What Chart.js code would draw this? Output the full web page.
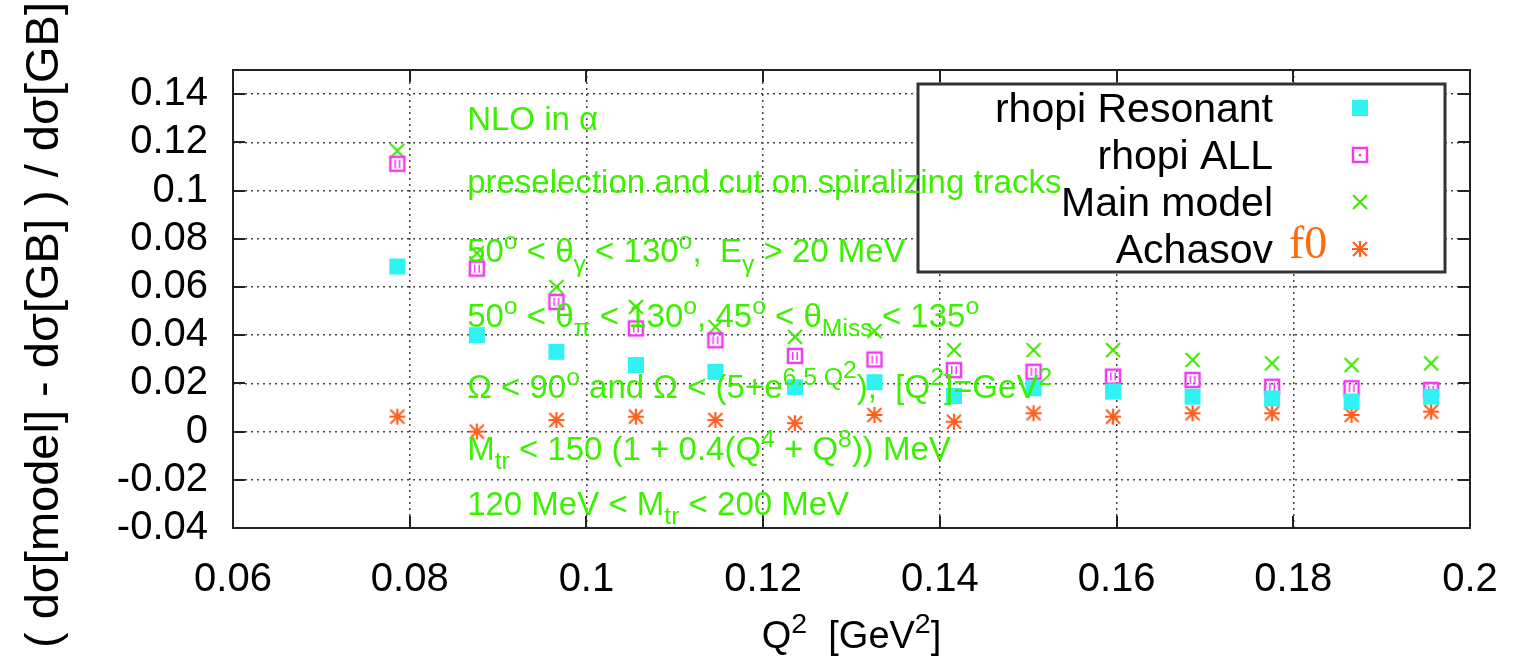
<!DOCTYPE html>
<html>
<head>
<meta charset="utf-8">
<script src="https://cdn.jsdelivr.net/npm/chart.js@4.4.1/dist/chart.umd.min.js"></script>
<style>
    html, body { margin: 0; padding: 0; background: #fff; overflow: hidden; }
    #ratioCanvas { display: block; }
</style>
</head>
<body>
<canvas id="ratioCanvas" width="1513" height="663"></canvas>
<script>
// Q^2 bin centres [GeV^2]
const q2 = [0.0786, 0.0876, 0.0966, 0.1056, 0.1146, 0.1236, 0.1326, 0.1416, 0.1506, 0.1596, 0.1686, 0.1776, 0.1866, 0.1956];

// relative difference to the GB cross section for each model
const rhopiResonant = [0.0685, 0.0400, 0.0331, 0.0276, 0.0248, 0.0184, 0.0205, 0.0148, 0.0180, 0.0166, 0.0145, 0.0138, 0.0124, 0.0145];
const rhopiAll      = [0.1111, 0.0676, 0.0538, 0.0428, 0.0379, 0.0314, 0.0299, 0.0255, 0.0248, 0.0228, 0.0214, 0.0186, 0.0180, 0.0173];
const mainModel     = [0.1165, 0.0740, 0.0600, 0.0517, 0.0434, 0.0393, 0.0417, 0.0338, 0.0338, 0.0338, 0.0297, 0.0283, 0.0276, 0.0283];
const achasov       = [0.0062, 0.0000, 0.0048, 0.0062, 0.0048, 0.0035, 0.0069, 0.0041, 0.0076, 0.0062, 0.0076, 0.0076, 0.0069, 0.0083];

const xTicks = [0.06, 0.08, 0.1, 0.12, 0.14, 0.16, 0.18, 0.2];
const xTickLabels = ['0.06', '0.08', '0.1', '0.12', '0.14', '0.16', '0.18', '0.2'];
const yTicks = [-0.04, -0.02, 0, 0.02, 0.04, 0.06, 0.08, 0.1, 0.12, 0.14];
const yTickLabels = ['-0.04', '-0.02', '0', '0.02', '0.04', '0.06', '0.08', '0.1', '0.12', '0.14'];

const SANS = '"Liberation Sans", Arial, Helvetica, sans-serif';
const GREEN_TEXT = '#3cf000';

// small canvases used as point styles (gnuplot like symbols)
function makeMarker(kind, legend) {
    const c = document.createElement('canvas');
    c.width = 24; c.height = 24;
    const g = c.getContext('2d');
    const m = 12;
    g.lineCap = 'butt';
    if (kind === 'box') {
        g.fillStyle = '#30f2f2';
        g.fillRect(m - 8, m - 8, 16, 16);
    } else if (kind === 'openbox') {
        g.strokeStyle = '#f03cf0';
        g.lineWidth = 2.5;
        g.strokeRect(m - 7, m - 7, 14, 14);
        g.fillStyle = '#f03cf0';
        if (legend) {
            g.fillRect(m - 1.2, m - 1.2, 2.4, 2.4);
        } else {
            g.fillRect(m - 3, m - 4, 1.5, 8);
            g.fillRect(m + 1.5, m - 4, 1.5, 8);
        }
    } else if (kind === 'cross') {
        g.strokeStyle = '#44e600';
        g.lineWidth = 2.2;
        g.beginPath();
        g.moveTo(m - 7, m - 7); g.lineTo(m + 7, m + 7);
        g.moveTo(m + 7, m - 7); g.lineTo(m - 7, m + 7);
        g.stroke();
    } else if (kind === 'star') {
        g.strokeStyle = '#ff6020';
        g.lineWidth = 2.2;
        g.beginPath();
        g.moveTo(m - 7, m - 7); g.lineTo(m + 7, m + 7);
        g.moveTo(m + 7, m - 7); g.lineTo(m - 7, m + 7);
        g.moveTo(m - 8, m); g.lineTo(m + 8, m);
        g.moveTo(m, m - 8); g.lineTo(m, m + 8);
        g.stroke();
    }
    return c;
}

function toPoints(values) {
    return q2.map((x, i) => ({x: x, y: values[i]}));
}

// text pieces: [text, level] with 0 normal, 1 superscript, -1 subscript, 2 superscript of superscript
const notes = [
    {y: 0.1252, segs: [['NLO in α', 0]]},
    {y: 0.0988, segs: [['preselection and cut on spiralizing tracks', 0]]},
    {y: 0.0702, segs: [['50', 0], ['o', 1], [' < θ', 0], ['γ', -1], [' < 130', 0], ['o', 1], [',  E', 0], ['γ', -1], [' > 20 MeV', 0]]},
    {y: 0.0433, segs: [['50', 0], ['o', 1], [' < θ', 0], ['π', -1], [' < 130', 0], ['o', 1], [', 45', 0], ['o', 1], [' < θ', 0], ['Miss', -1], [' < 135', 0], ['o', 1]]},
    {y: 0.0139, segs: [['Ω < 90', 0], ['o', 1], [' and Ω < (5+e', 0], ['6.5 Q', 1], ['2', 2], ['),  [Q', 0], ['2', 1], [']=GeV', 0], ['2', 1]]},
    {y: -0.0117, segs: [['M', 0], ['tr', -1], [' < 150 (1 + 0.4(Q', 0], ['4', 1], [' + Q', 0], ['8', 1], [')) MeV', 0]]},
    {y: -0.0345, segs: [['120 MeV < M', 0], ['tr', -1], [' < 200 MeV', 0]]}
];

function segFont(level, size) {
    return (level === 0 ? size : size * 0.75) + 'px ' + SANS;
}
function segShift(level, size) {
    if (level === 1) return -0.4 * size;
    if (level === 2) return -0.62 * size;
    if (level === -1) return 0.28 * size;
    return 0;
}
function richWidth(ctx, segs, size) {
    let w = 0;
    segs.forEach(s => { ctx.font = segFont(s[1], size); w += ctx.measureText(s[0]).width; });
    return w;
}
function drawRich(ctx, segs, x, y, size) {
    ctx.textAlign = 'left';
    ctx.textBaseline = 'alphabetic';
    segs.forEach(s => {
        ctx.font = segFont(s[1], size);
        ctx.fillText(s[0], x, y + segShift(s[1], size));
        x += ctx.measureText(s[0]).width;
    });
}

const legendMarkers = [makeMarker('box', true), makeMarker('openbox', true), makeMarker('cross', true), makeMarker('star', true)];

// frame, inward ticks, key box, labels and axis titles
const gnuplotLook = {
    id: 'gnuplotLook',
    afterDraw(chart) {
        const ctx = chart.ctx;
        const a = chart.chartArea;
        const xs = chart.scales.x, ys = chart.scales.y;
        ctx.save();

        // border
        ctx.strokeStyle = '#222';
        ctx.lineWidth = 2;
        ctx.strokeRect(a.left, a.top, a.right - a.left, a.bottom - a.top);

        // ticks pointing inwards on all four sides
        ctx.beginPath();
        xTicks.forEach(v => {
            const px = Math.round(xs.getPixelForValue(v));
            ctx.moveTo(px, a.bottom); ctx.lineTo(px, a.bottom - 12);
            ctx.moveTo(px, a.top); ctx.lineTo(px, a.top + 12);
        });
        yTicks.forEach(v => {
            const py = Math.round(ys.getPixelForValue(v));
            ctx.moveTo(a.left, py); ctx.lineTo(a.left + 12, py);
            ctx.moveTo(a.right, py); ctx.lineTo(a.right - 12, py);
        });
        ctx.stroke();

        // key
        ctx.fillStyle = '#fff';
        ctx.fillRect(918, 84, 527, 188);
        ctx.strokeStyle = '#333';
        ctx.lineWidth = 3;
        ctx.strokeRect(918, 84, 527, 188);
        ctx.font = '41px ' + SANS;
        ctx.fillStyle = '#000';
        ctx.textAlign = 'right';
        ctx.textBaseline = 'alphabetic';
        chart.data.datasets.forEach((ds, i) => {
            const rowY = 108 + 47 * i;
            ctx.fillText(ds.label, 1273, rowY + 14);
            const mk = legendMarkers[i];
            ctx.drawImage(mk, 1360 - mk.width / 2, rowY - mk.height / 2);
        });
        ctx.font = '46px "Liberation Serif", "Times New Roman", serif';
        ctx.fillStyle = '#ff6a10';
        ctx.textAlign = 'left';
        ctx.fillText('f0', 1289, 258);

        // cut descriptions
        ctx.fillStyle = GREEN_TEXT;
        notes.forEach(n => {
            drawRich(ctx, n.segs, xs.getPixelForValue(0.0865), ys.getPixelForValue(n.y), 33);
        });

        // axis titles
        ctx.fillStyle = '#000';
        const xTitle = [['Q', 0], ['2', 1], ['  [GeV', 0], ['2', 1], [']', 0]];
        const tw = richWidth(ctx, xTitle, 38);
        drawRich(ctx, xTitle, (a.left + a.right) / 2 - tw / 2, 648, 38);

        ctx.translate(58, 325);
        ctx.rotate(-Math.PI / 2);
        ctx.font = '47px ' + SANS;
        ctx.textAlign = 'center';
        ctx.fillText('( dσ[model] - dσ[GB] ) / dσ[GB]', 0, 0);
        ctx.restore();
    }
};

document.addEventListener('DOMContentLoaded', function() {
    const ctx = document.getElementById('ratioCanvas').getContext('2d');
    new Chart(ctx, {
        type: 'scatter',
        data: {
            datasets: [
                {label: 'rhopi Resonant', data: toPoints(rhopiResonant), pointStyle: makeMarker('box'), pointRadius: 8},
                {label: 'rhopi ALL', data: toPoints(rhopiAll), pointStyle: makeMarker('openbox'), pointRadius: 8},
                {label: 'Main model', data: toPoints(mainModel), pointStyle: makeMarker('cross'), pointRadius: 8},
                {label: 'Achasov', data: toPoints(achasov), pointStyle: makeMarker('star'), pointRadius: 8}
            ]
        },
        options: {
            responsive: false,
            animation: false,
            events: [],
            layout: {padding: {top: 70, right: 43, left: 0, bottom: 0}},
            plugins: {
                legend: {display: false},
                tooltip: {enabled: false}
            },
            scales: {
                x: {
                    type: 'linear',
                    min: 0.06,
                    max: 0.2,
                    // fixed axis band; the outer labels have room in the margins
                    afterFit: s => { s.height = 135; s.paddingLeft = 0; s.paddingRight = 0; },
                    afterBuildTicks: s => { s.ticks = xTicks.map(v => ({value: v})); },
                    ticks: {
                        callback: (v, i) => xTickLabels[i],
                        font: {family: SANS, size: 40},
                        color: '#000',
                        padding: 28,
                        maxRotation: 0,
                        autoSkip: false
                    },
                    grid: {color: '#444', lineWidth: 1.5, drawTicks: false},
                    border: {display: false, dash: [2, 4]}
                },
                y: {
                    type: 'linear',
                    min: -0.04,
                    max: 0.15,
                    afterFit: s => { s.width = 233; s.paddingTop = 0; s.paddingBottom = 0; },
                    afterBuildTicks: s => { s.ticks = yTicks.map(v => ({value: v})); },
                    ticks: {
                        callback: (v, i) => yTickLabels[i],
                        font: {family: SANS, size: 40},
                        color: '#000',
                        padding: 25,
                        autoSkip: false
                    },
                    grid: {color: '#444', lineWidth: 1.5, drawTicks: false},
                    border: {display: false, dash: [2, 4]}
                }
            }
        },
        plugins: [gnuplotLook]
    });
});
</script>
</body>
</html>
